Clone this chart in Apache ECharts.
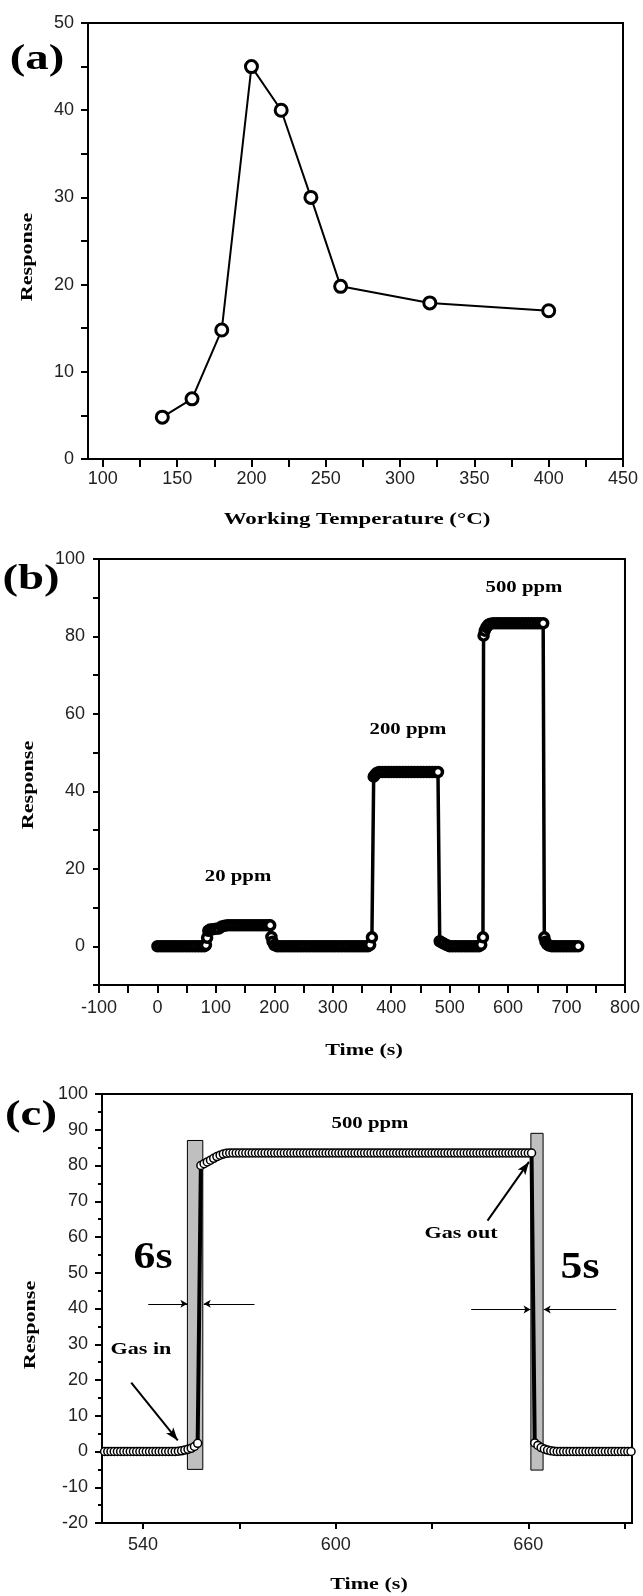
<!DOCTYPE html>
<html>
<head>
<meta charset="utf-8">
<title>Sensor response</title>
<script src="https://cdn.jsdelivr.net/npm/echarts@6.0.0/dist/echarts.min.js"></script>
<style>
  html, body { margin: 0; padding: 0; background: #fff; }
  #chart { width: 643px; height: 1596px; }
</style>
</head>
<body>
<div id="chart"></div>
<script>
// (a) response vs working temperature
const tempA = [140, 160, 180, 200, 220, 240, 260, 320, 400];
const respA = [4.8, 6.9, 14.8, 45, 40, 30, 19.8, 17.9, 17];
const ticksAx = [100, 125, 150, 175, 200, 225, 250, 275, 300, 325, 350, 375, 400, 425, 450];
const labelsAx = [100, 150, 200, 250, 300, 350, 400, 450];

// (b) dynamic response at 20 / 200 / 500 ppm
const timeB = [
  0, 5, 10, 15, 20, 25, 30, 35, 40, 45, 50, 55, 60, 65, 70, 75, 80,
  83, 85, 87, 90, 95, 100, 105, 110, 115,
  120, 125, 130, 135, 140, 145, 150, 155, 160, 165, 170, 175, 180, 185, 190, 193,
  195, 197, 200,
  205, 210, 215, 220, 225, 230, 235, 240, 245, 250, 255, 260, 265, 270, 275, 280,
  285, 290, 295, 300, 305, 310, 315, 320, 325, 330, 335, 340, 345, 350, 355, 360,
  364, 367,
  370, 373, 376,
  380, 385, 390, 395, 400, 405, 410, 415, 420, 425, 430, 435, 440, 445, 450, 455, 460, 465, 470, 475, 480,
  483, 486, 490, 495,
  500, 505, 510, 515, 520, 525, 530, 535, 540, 545, 550,
  554, 557,
  558, 560, 563, 566, 570,
  575, 580, 585, 590, 595, 600, 605, 610, 615, 620, 625, 630, 635, 640, 645, 650, 655, 660,
  662, 664, 667, 670,
  675, 680, 685, 690, 695, 700, 705, 710, 715, 720
];
const respB = [
  0, 0, 0, 0, 0, 0, 0, 0, 0, 0, 0, 0, 0, 0, 0, 0, 0,
  0.3, 2.2, 4.0, 4.3, 4.4, 4.5, 4.6, 5.1, 5.3,
  5.4, 5.4, 5.4, 5.4, 5.4, 5.4, 5.4, 5.4, 5.4, 5.4, 5.4, 5.4, 5.4, 5.4, 5.4, 5.4,
  2.4, 1.2, 0.3,
  0, 0, 0, 0, 0, 0, 0, 0, 0, 0, 0, 0, 0, 0, 0, 0,
  0, 0, 0, 0, 0, 0, 0, 0, 0, 0, 0, 0, 0, 0, 0, 0,
  0.4, 2.3,
  43.8, 44.4, 44.8,
  45, 45, 45, 45, 45, 45, 45, 45, 45, 45, 45, 45, 45, 45, 45, 45, 45, 45, 45, 45, 45,
  1.3, 1.0, 0.7, 0.3,
  0, 0, 0, 0, 0, 0, 0, 0, 0, 0, 0,
  0.4, 2.3,
  80.2, 81.5, 82.4, 83.0, 83.3,
  83.4, 83.4, 83.4, 83.4, 83.4, 83.4, 83.4, 83.4, 83.4, 83.4, 83.4, 83.4, 83.4, 83.4, 83.4, 83.4, 83.4, 83.4,
  2.3, 1.2, 0.5, 0.2,
  0, 0, 0, 0, 0, 0, 0, 0, 0, 0
];
const ticksBy = [-10, 0, 10, 20, 30, 40, 50, 60, 70, 80, 90, 100];
const labelsBy = [0, 20, 40, 60, 80, 100];

// (c) close-up of the 500 ppm pulse
const timeC = [
  527, 528, 529, 530, 531, 532, 533, 534, 535, 536,
  537, 538, 539, 540, 541, 542, 543, 544, 545, 546,
  547, 548, 549, 550, 551, 552, 553, 554, 555, 556,
  557, 558, 559, 560, 561, 562, 563, 564, 565, 566,
  567, 568, 569, 570, 571, 572, 573, 574, 575, 576,
  577, 578, 579, 580, 581, 582, 583, 584, 585, 586,
  587, 588, 589, 590, 591, 592, 593, 594, 595, 596,
  597, 598, 599, 600, 601, 602, 603, 604, 605, 606,
  607, 608, 609, 610, 611, 612, 613, 614, 615, 616,
  617, 618, 619, 620, 621, 622, 623, 624, 625, 626,
  627, 628, 629, 630, 631, 632, 633, 634, 635, 636,
  637, 638, 639, 640, 641, 642, 643, 644, 645, 646,
  647, 648, 649, 650, 651, 652, 653, 654, 655, 656,
  657, 658, 659, 660, 661, 662, 663, 664, 665, 666,
  667, 668, 669, 670, 671, 672, 673, 674, 675, 676,
  677, 678, 679, 680, 681, 682, 683, 684, 685, 686,
  687, 688, 689, 690, 691, 692
];
const respC = [
  0, 0, 0, 0, 0, 0, 0, 0, 0, 0,
  0, 0, 0, 0, 0, 0, 0, 0, 0, 0,
  0, 0, 0, 0, 0.1, 0.2, 0.4, 0.6, 0.9, 1.4,
  2.3, 80.0, 80.5, 81.0, 81.5, 82.0, 82.5, 82.9, 83.2, 83.4,
  83.5, 83.5, 83.5, 83.5, 83.5, 83.5, 83.5, 83.5, 83.5, 83.5,
  83.5, 83.5, 83.5, 83.5, 83.5, 83.5, 83.5, 83.5, 83.5, 83.5,
  83.5, 83.5, 83.5, 83.5, 83.5, 83.5, 83.5, 83.5, 83.5, 83.5,
  83.5, 83.5, 83.5, 83.5, 83.5, 83.5, 83.5, 83.5, 83.5, 83.5,
  83.5, 83.5, 83.5, 83.5, 83.5, 83.5, 83.5, 83.5, 83.5, 83.5,
  83.5, 83.5, 83.5, 83.5, 83.5, 83.5, 83.5, 83.5, 83.5, 83.5,
  83.5, 83.5, 83.5, 83.5, 83.5, 83.5, 83.5, 83.5, 83.5, 83.5,
  83.5, 83.5, 83.5, 83.5, 83.5, 83.5, 83.5, 83.5, 83.5, 83.5,
  83.5, 83.5, 83.5, 83.5, 83.5, 83.5, 83.5, 83.5, 83.5, 83.5,
  83.5, 83.5, 83.5, 83.5, 83.5, 2.4, 1.7, 1.1, 0.7, 0.4,
  0.2, 0.1, 0, 0, 0, 0, 0, 0, 0, 0,
  0, 0, 0, 0, 0, 0, 0, 0, 0, 0,
  0, 0, 0, 0, 0, 0
];
const ticksCx = [540, 570, 600, 630, 660, 690];
const labelsCx = [540, 600, 660];
// response / recovery windows [x1, y1, x2, y2]
const boxesC = [[553.8, -5, 558.6, 87], [660.8, -5.2, 664.6, 89]];
// time-span arrows [x1, y1, x2, y2]
const spanArrowsC = [
  [541.6, 41.3, 553.8, 41.3],
  [574.7, 41.3, 558.9, 41.3],
  [642.2, 39.7, 660.7, 39.7],
  [687.4, 39.7, 664.8, 39.7]
];
// gas in / gas out pointers
const pointersC = [[536.3, 19.3, 550.8, 3.1], [647.3, 64.6, 660.2, 81.0]];

const SANS = "'Liberation Sans', Arial, sans-serif";
const SERIF = "'Liberation Serif', 'Times New Roman', serif";
const zip = (xs, ys) => xs.map((x, i) => [x, ys[i]]);

function valueAxis(opt) {
  // black framed axis with outward ticks, not crossing at zero
  return Object.assign({
    type: "value",
    axisLine: { show: true, onZero: false, lineStyle: { color: "#000", width: 2 } },
    axisTick: { show: true, length: 8, lineStyle: { color: "#000", width: 2 } },
    axisLabel: { color: "#222", fontFamily: SANS, fontSize: 18, margin: 14 },
    splitLine: { show: false }
  }, opt);
}

// the scanned figure uses wide bold serif lettering, so stretch it a bit
function text(x, y, str, size, rotate, sx) {
  return {
    type: "text", x: x, y: y,
    rotation: rotate ? Math.PI / 2 : 0,
    scaleX: sx || 1.3,
    style: {
      text: str, fill: "#000", font: "bold " + size + "px " + SERIF,
      align: "center", verticalAlign: "middle"
    }
  };
}

const chart = echarts.init(document.getElementById("chart"), null, { renderer: "canvas" });

const option = {
  animation: false,
  backgroundColor: "#fff",
  grid: [
    { left: 88, top: 23, width: 535, height: 436, show: true, borderColor: "#000", borderWidth: 2 },
    { left: 99, top: 559, width: 529, height: 426, show: true, borderColor: "#000", borderWidth: 2 },
    { left: 102, top: 1094, width: 530, height: 429, show: true, borderColor: "#000", borderWidth: 2 }
  ],
  xAxis: [
    valueAxis({
      gridIndex: 0, min: 90, max: 450,
      axisTick: { show: true, length: 8, customValues: ticksAx, lineStyle: { color: "#000", width: 2 } },
      axisLabel: { color: "#222", fontFamily: SANS, fontSize: 18, margin: 11, customValues: labelsAx }
    }),
    valueAxis({
      gridIndex: 1, min: -100, max: 800, interval: 100,
      minorTick: { show: true, splitNumber: 2, length: 8, lineStyle: { color: "#000", width: 2 } },
      axisLabel: { color: "#222", fontFamily: SANS, fontSize: 18, margin: 14 }
    }),
    valueAxis({
      gridIndex: 2, min: 527.2, max: 692.3,
      axisTick: { show: true, length: 6, customValues: ticksCx, lineStyle: { color: "#000", width: 2 } },
      axisLabel: { color: "#222", fontFamily: SANS, fontSize: 18, margin: 13, customValues: labelsCx }
    })
  ],
  yAxis: [
    valueAxis({
      gridIndex: 0, min: 0, max: 50, interval: 10,
      minorTick: { show: true, splitNumber: 2, length: 7, lineStyle: { color: "#000", width: 2 } },
      axisTick: { show: true, length: 7, lineStyle: { color: "#000", width: 2 } }
    }),
    valueAxis({
      gridIndex: 1, min: -10, max: 100,
      axisTick: { show: true, length: 6, customValues: ticksBy, lineStyle: { color: "#000", width: 2 } },
      axisLabel: { color: "#222", fontFamily: SANS, fontSize: 18, margin: 14, customValues: labelsBy }
    }),
    valueAxis({
      gridIndex: 2, min: -20, max: 100, interval: 10,
      axisTick: { show: true, length: 7, lineStyle: { color: "#000", width: 2 } },
      minorTick: { show: true, splitNumber: 2, length: 4, lineStyle: { color: "#000", width: 2 } }
    })
  ],
  series: [
    {
      type: "line", xAxisIndex: 0, yAxisIndex: 0,
      data: zip(tempA, respA),
      symbol: "circle", symbolSize: 12,
      lineStyle: { color: "#000", width: 2 },
      itemStyle: { color: "#fff", borderColor: "#000", borderWidth: 3 }
    },
    {
      type: "line", xAxisIndex: 1, yAxisIndex: 1,
      data: zip(timeB, respB),
      symbol: "circle", symbolSize: 9,
      lineStyle: { color: "#000", width: 3.5 },
      itemStyle: { color: "#fff", borderColor: "#000", borderWidth: 3.5 }
    },
    {
      type: "line", xAxisIndex: 2, yAxisIndex: 2,
      data: zip(timeC, respC),
      symbol: "circle", symbolSize: 8,
      lineStyle: { color: "#000", width: 4 },
      itemStyle: { color: "#fff", borderColor: "#000", borderWidth: 1.5 },
      markArea: {
        silent: true,
        itemStyle: { color: "#bfbfbf", borderColor: "#000", borderWidth: 1 },
        data: boxesC.map(b => [{ coord: [b[0], b[1]] }, { coord: [b[2], b[3]] }])
      },
      markLine: {
        silent: true,
        animation: false,
        label: { show: false },
        symbol: ["none", "arrow"],
        lineStyle: { color: "#000", type: "solid", width: 1 },
        data: spanArrowsC.map(a => [
          { coord: [a[0], a[1]], symbolSize: 6 },
          { coord: [a[2], a[3]], symbolSize: [6, 7] }
        ]).concat(pointersC.map(a => [
          { coord: [a[0], a[1]], lineStyle: { color: "#000", type: "solid", width: 2 } },
          { coord: [a[2], a[3]], symbolSize: [7, 13] }
        ]))
      }
    }
  ],
  graphic: [
    text(37, 60, "(a)", 36),
    text(31, 580, "(b)", 36),
    text(31, 1116, "(c)", 36),
    text(28, 257, "Response", 17, true),
    text(29, 785, "Response", 17, true),
    text(31, 1325, "Response", 17, true),
    text(357, 520, "Working Temperature (°C)", 17, false, 1.35),
    text(364, 1051, "Time (s)", 17),
    text(369, 1585, "Time (s)", 17),
    text(238, 877, "20 ppm", 16),
    text(408, 730, "200 ppm", 16),
    text(524, 588, "500 ppm", 16),
    text(370, 1124, "500 ppm", 16),
    text(141, 1350, "Gas in", 17),
    text(461, 1234, "Gas out", 17),
    text(153, 1258, "6s", 38, false, 1.15),
    text(580, 1268, "5s", 38, false, 1.15)
  ]
};

chart.setOption(option);
</script>
</body>
</html>
